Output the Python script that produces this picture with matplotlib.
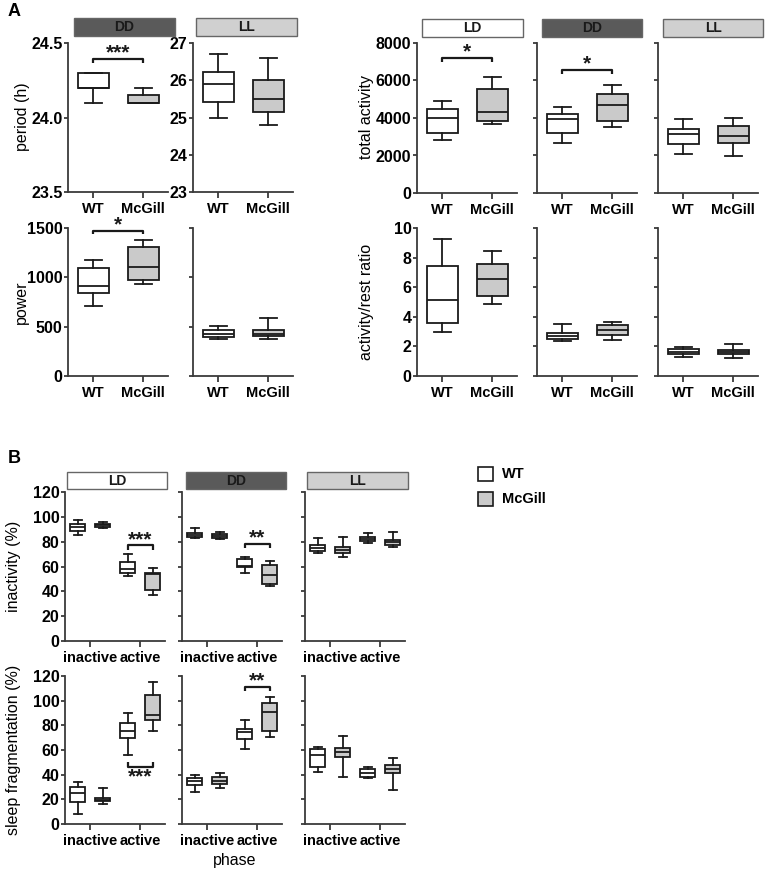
import matplotlib
matplotlib.use("Agg")
import matplotlib.pyplot as plt
from matplotlib.patches import Rectangle

plt.rcParams['font.family'] = ['Liberation Sans', 'DejaVu Sans']

W, H = 768, 871
groups = ["WT", "McGill"]
phases = ["inactive", "active"]

# ---- Panel A data: [whisker low, Q1, median, Q3, whisker high] ----
period_DD_WT = [24.10, 24.20, 24.20, 24.30, 24.30]
period_DD_McGill = [24.10, 24.10, 24.10, 24.15, 24.20]
period_LL_WT = [25.00, 25.41, 25.89, 26.23, 26.70]
period_LL_McGill = [24.79, 25.16, 25.49, 26.01, 26.59]

power_DD_WT = [713, 838, 912, 1091, 1172]
power_DD_McGill = [929, 970, 1108, 1307, 1375]
power_LL_WT = [372, 392, 429, 466, 503]
power_LL_McGill = [372, 402, 422, 466, 591]

activity_LD_WT = [2821, 3179, 4000, 4464, 4911]
activity_LD_McGill = [3679, 3857, 4304, 5536, 6196]
activity_DD_WT = [2679, 3179, 3929, 4196, 4607]
activity_DD_McGill = [3518, 3839, 4679, 5304, 5768]
activity_LL_WT = [2089, 2607, 3125, 3393, 3964]
activity_LL_McGill = [1964, 2679, 3054, 3554, 4000]

ratio_LD_WT = [2.94, 3.55, 5.14, 7.44, 9.25]
ratio_LD_McGill = [4.84, 5.41, 6.54, 7.60, 8.46]
ratio_DD_WT = [2.38, 2.53, 2.71, 2.92, 3.48]
ratio_DD_McGill = [2.40, 2.76, 3.10, 3.44, 3.64]
ratio_LL_WT = [1.29, 1.49, 1.65, 1.81, 1.97]
ratio_LL_McGill = [1.22, 1.52, 1.65, 1.74, 2.13]

# ---- Panel B data: per phase (inactive, active) ----
inact_LD_WT = [[85.7, 88.9, 92.1, 94.5, 97.2], [52.0, 54.4, 57.6, 63.8, 70.2]]
inact_LD_McGill = [[90.7, 92.1, 93.2, 94.3, 95.6], [37.4, 41.4, 53.8, 54.6, 58.6]]
inact_DD_WT = [[83.3, 84.1, 85.7, 87.3, 91.1], [54.4, 59.5, 60.5, 65.9, 67.8]]
inact_DD_McGill = [[82.5, 83.3, 84.9, 86.2, 87.6], [44.2, 46.3, 53.0, 61.1, 64.5]]
inact_LL_WT = [[70.5, 72.7, 74.5, 77.2, 82.6], [78.6, 80.2, 82.3, 83.9, 86.6]]
inact_LL_McGill = [[67.6, 70.8, 72.9, 76.1, 83.4], [75.6, 77.7, 79.9, 81.5, 87.9]]

frag_LD_WT = [[8.1, 18.1, 25.4, 30.0, 34.3], [55.7, 70.0, 75.7, 81.6, 89.7]]
frag_LD_McGill = [[16.5, 18.9, 19.7, 20.8, 29.5], [75.4, 84.1, 88.4, 104.3, 114.9]]
frag_DD_WT = [[25.6, 31.3, 35.0, 37.2, 39.4], [61.2, 69.0, 74.2, 77.4, 84.4]]
frag_DD_McGill = [[28.8, 32.4, 35.0, 38.0, 41.5], [70.4, 75.5, 91.1, 98.4, 103.3]]
frag_LL_WT = [[42.2, 46.5, 55.9, 61.1, 62.2], [37.6, 38.4, 41.6, 44.6, 46.5]]
frag_LL_McGill = [[38.4, 54.1, 58.6, 61.9, 71.4], [27.6, 41.6, 44.9, 47.6, 53.5]]

WT_COLOR = "white"
MCG_COLOR = "#cacaca"
EDGE = "#1a1a1a"
SPINE = "#3a3a3a"

fig = plt.figure(figsize=(W / 100, H / 100), dpi=100)


def px_axes(left, top, right, bottom):
    return fig.add_axes([left / W, 1 - bottom / H, (right - left) / W, (bottom - top) / H])


def stat(v):
    return dict(whislo=v[0], q1=v[1], med=v[2], q3=v[3], whishi=v[4], fliers=[])


def draw_boxes(ax, vals, positions, colors, width, capw):
    bp = ax.bxp([stat(v) for v in vals], positions=positions, widths=width,
                patch_artist=True, showfliers=False, capwidths=capw,
                boxprops=dict(edgecolor=EDGE, linewidth=1.3),
                medianprops=dict(color=EDGE, linewidth=1.3),
                whiskerprops=dict(color=EDGE, linewidth=1.3),
                capprops=dict(color=EDGE, linewidth=1.3), manage_ticks=False)
    for patch, c in zip(bp['boxes'], colors):
        patch.set_facecolor(c)


def style(ax, ylim, yticks, ylabels=True, fmt=None, xticks=(1, 2), xlabels=groups):
    ax.set_xlim(0.5, 2.5)
    ax.set_ylim(*ylim)
    ax.set_yticks(yticks)
    if ylabels:
        ax.set_yticklabels([fmt.format(t) if fmt else str(t) for t in yticks])
    else:
        ax.set_yticklabels([])
    ax.set_xticks(list(xticks))
    ax.set_xticklabels(xlabels)
    for s in ("top", "right"):
        ax.spines[s].set_visible(False)
    for s in ("left", "bottom"):
        ax.spines[s].set_color(SPINE)
        ax.spines[s].set_linewidth(1.3)
    ax.tick_params(axis="y", direction="out", length=3, width=1.3, color=SPINE,
                   labelsize=11.5, pad=1)
    ax.tick_params(axis="x", direction="out", length=4, width=1.3, color=SPINE,
                   labelsize=10.5, pad=3)
    for lab in ax.get_yticklabels() + ax.get_xticklabels():
        lab.set_fontweight("bold")
    ax.patch.set_alpha(0)


def bracket(ax, x1, x2, y, h, text, up_text=True, dy=0.0):
    ax.plot([x1, x1, x2, x2], [y - h, y, y, y - h], color=EDGE, lw=1.6,
            solid_capstyle="butt", clip_on=False)
    va = "bottom" if up_text else "top"
    ax.text((x1 + x2) / 2, y + dy, text, ha="center", va=va, fontsize=15,
            fontweight="bold", color=EDGE)


def header(left, top, right, bottom, text, fc, tc="#1a1a1a"):
    r = Rectangle((left / W, 1 - bottom / H), (right - left) / W, (bottom - top) / H,
                  transform=fig.transFigure, facecolor=fc, edgecolor="#666666", lw=1.0)
    fig.patches.append(r)
    fig.text((left + right) / 2 / W, 1 - (top + bottom) / 2 / H, text, ha="center",
             va="center", fontsize=10, fontweight="bold", color=tc)


def ylab(x, y, text):
    fig.text(x / W, 1 - y / H, text, rotation=90, ha="center", va="center", fontsize=11.5)


colsA = [WT_COLOR, MCG_COLOR]

# ===== Panel A =====
fig.text(8 / W, 1 - 12 / H, "A", fontsize=13, fontweight="bold", ha="left", va="center")

# period
ax = px_axes(68, 43, 168, 192)
draw_boxes(ax, [period_DD_WT, period_DD_McGill], [1, 2], colsA, 0.62, 0.34)
style(ax, (23.5, 24.5), [23.5, 24.0, 24.5], fmt="{:.1f}")
bracket(ax, 1, 2, 24.39, 0.025, "***", dy=-0.02)

ax = px_axes(193, 43, 293, 192)
draw_boxes(ax, [period_LL_WT, period_LL_McGill], [1, 2], colsA, 0.62, 0.34)
style(ax, (23, 27), [23, 24, 25, 26, 27])

# power
ax = px_axes(68, 228, 168, 376)
draw_boxes(ax, [power_DD_WT, power_DD_McGill], [1, 2], colsA, 0.62, 0.34)
style(ax, (0, 1500), [0, 500, 1000, 1500])
bracket(ax, 1, 2, 1470, 35, "*", dy=-30)

ax = px_axes(193, 228, 293, 376)
draw_boxes(ax, [power_LL_WT, power_LL_McGill], [1, 2], colsA, 0.62, 0.34)
style(ax, (0, 1500), [0, 500, 1000, 1500], ylabels=False)

# total activity
act = [(activity_LD_WT, activity_LD_McGill), (activity_DD_WT, activity_DD_McGill),
       (activity_LL_WT, activity_LL_McGill)]
rat = [(ratio_LD_WT, ratio_LD_McGill), (ratio_DD_WT, ratio_DD_McGill),
       (ratio_LL_WT, ratio_LL_McGill)]
lefts = [417, 537, 658]
for i, (l, (a, b)) in enumerate(zip(lefts, act)):
    ax = px_axes(l, 43, l + 100, 193)
    draw_boxes(ax, [a, b], [1, 2], colsA, 0.62, 0.34)
    style(ax, (0, 8000), [0, 2000, 4000, 6000, 8000], ylabels=(i == 0))
    if i == 0:
        bracket(ax, 1, 2, 7196, 200, "*", dy=-170)
    if i == 1:
        bracket(ax, 1, 2, 6536, 200, "*", dy=-170)
for i, (l, (a, b)) in enumerate(zip(lefts, rat)):
    ax = px_axes(l, 228, l + 100, 376)
    draw_boxes(ax, [a, b], [1, 2], colsA, 0.62, 0.34)
    style(ax, (0, 10), [0, 2, 4, 6, 8, 10], ylabels=(i == 0))

# headers A
header(74, 18, 175, 36, "DD", "#5a5a5a")
header(196, 18, 297, 36, "LL", "#d0d0d0")
header(422, 19, 523, 37, "LD", "white")
header(542, 19, 642, 37, "DD", "#5a5a5a")
header(663, 19, 763, 37, "LL", "#d0d0d0")

ylab(22, 117, "period (h)")
ylab(21, 302, "power")
ylab(367, 117, "total activity")
ylab(367, 302, "activity/rest ratio")

# ===== Panel B =====
fig.text(8 / W, 1 - 458 / H, "B", fontsize=13, fontweight="bold", ha="left", va="center")

inact = [(inact_LD_WT, inact_LD_McGill), (inact_DD_WT, inact_DD_McGill),
         (inact_LL_WT, inact_LL_McGill)]
frag = [(frag_LD_WT, frag_LD_McGill), (frag_DD_WT, frag_DD_McGill),
        (frag_LL_WT, frag_LL_McGill)]
leftsB = [65, 182, 305]
off = 0.25
posB = [1 - off, 2 - off, 1 + off, 2 + off]
colsB = [WT_COLOR, WT_COLOR, MCG_COLOR, MCG_COLOR]

for i, (l, (a, b)) in enumerate(zip(leftsB, inact)):
    ax = px_axes(l, 492, l + 100, 641)
    draw_boxes(ax, [a[0], a[1], b[0], b[1]], posB, colsB, 0.30, 0.16)
    style(ax, (0, 120), list(range(0, 121, 20)), ylabels=(i == 0), xlabels=phases)
    if i == 0:
        bracket(ax, 2 - off, 2 + off, 77.1, 3.5, "***", dy=-3)
    if i == 1:
        bracket(ax, 2 - off, 2 + off, 78.0, 3.5, "**", dy=-3)

for i, (l, (a, b)) in enumerate(zip(leftsB, frag)):
    ax = px_axes(l, 676, l + 100, 824)
    draw_boxes(ax, [a[0], a[1], b[0], b[1]], posB, colsB, 0.30, 0.16)
    style(ax, (0, 120), list(range(0, 121, 20)), ylabels=(i == 0), xlabels=phases)
    if i == 0:
        bracket(ax, 2 - off, 2 + off, 46.5, -3.5, "***", up_text=False, dy=-1)
    if i == 1:
        bracket(ax, 2 - off, 2 + off, 111.4, 3.5, "**", dy=-3)

header(67, 472, 167, 489, "LD", "white")
header(186, 472, 286, 489, "DD", "#5a5a5a")
header(307, 472, 408, 489, "LL", "#d0d0d0")

ylab(14, 566, "inactivity (%)")
ylab(14, 750, "sleep fragmentation (%)")
fig.text(235 / W, 1 - 860 / H, "phase", ha="center", va="center", fontsize=11.5)

# legend
for (y0, c, t) in [(467, WT_COLOR, "WT"), (492, MCG_COLOR, "McGill")]:
    r = Rectangle((478 / W, 1 - (y0 + 14) / H), 15 / W, 14 / H, transform=fig.transFigure,
                  facecolor=c, edgecolor=EDGE, lw=1.2)
    fig.patches.append(r)
    fig.text(502 / W, 1 - (y0 + 7) / H, t, ha="left", va="center", fontsize=10.5,
             fontweight="bold")

fig.savefig("out.png", dpi=100)
